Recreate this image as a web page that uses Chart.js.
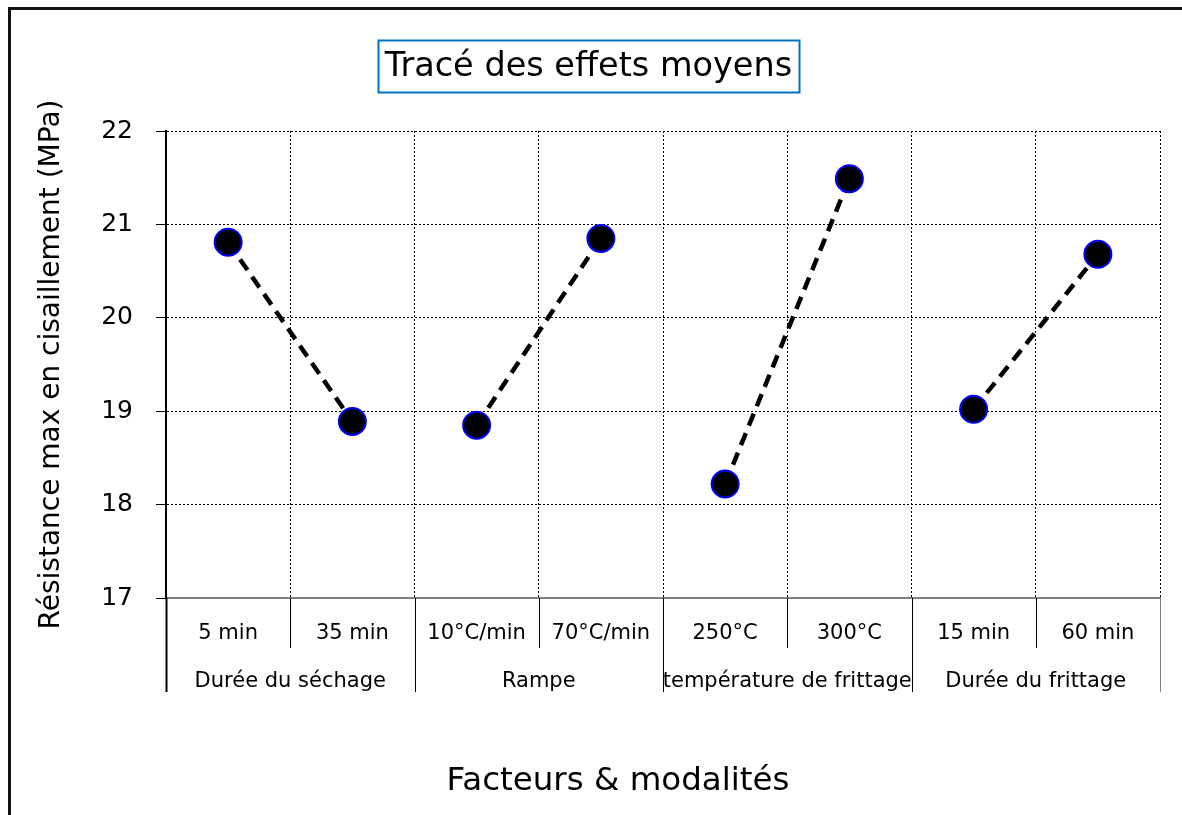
<!DOCTYPE html>
<html><head><meta charset="utf-8">
<script src="https://cdn.jsdelivr.net/npm/chart.js@4"></script>
<style>html,body{margin:0;padding:0;background:#fff}#wrap{width:1182px;height:815px;position:relative}</style>
</head><body><div id="wrap"><canvas id="c" width="1182" height="815"></canvas></div>
<script>
const categories = ['5 min', '35 min', '10°C/min', '70°C/min', '250°C', '300°C', '15 min', '60 min'];
const factors = ['Durée du séchage', 'Rampe', 'température de frittage', 'Durée du frittage'];
const meanValues = [20.81, 18.89, 18.85, 20.85, 18.22, 21.49, 19.02, 20.68];
const yTicks = [17, 18, 19, 20, 21, 22];
const chartTitle = 'Tracé des effets moyens';
const yTitle = 'Résistance max en cisaillement (MPa)';
const xTitle = 'Facteurs & modalités';

const FONT = '"DejaVu Sans", Verdana, sans-serif';

const decor = {
  id: 'decor',
  beforeDraw(chart) {
    const ctx = chart.ctx;
    ctx.save();
    ctx.fillStyle = '#fff';
    ctx.fillRect(0, 0, chart.width, chart.height);
    ctx.strokeStyle = '#111';
    ctx.lineWidth = 3;
    ctx.beginPath();
    ctx.moveTo(9.5, chart.height);
    ctx.lineTo(9.5, 8.5);
    ctx.lineTo(chart.width, 8.5);
    ctx.stroke();
    ctx.restore();
  },
  afterDraw(chart) {
    const ctx = chart.ctx;
    const xs = chart.scales.x;
    const area = chart.chartArea;
    ctx.save();
    // tick separators in the label area
    for (let i = 0; i <= categories.length; i++) {
      const x = Math.round(xs.getPixelForValue(i - 0.5)) + 0.5;
      const groupEdge = i % 2 === 0;
      ctx.beginPath();
      ctx.lineWidth = i === 0 ? 2 : 1;
      ctx.strokeStyle = i === categories.length ? '#808080' : '#000';
      ctx.moveTo(x, area.bottom);
      ctx.lineTo(x, groupEdge ? area.bottom + 94 : area.bottom + 50);
      ctx.stroke();
    }
    // factor labels
    ctx.fillStyle = '#000';
    ctx.font = '21px ' + FONT;
    ctx.textAlign = 'center';
    ctx.textBaseline = 'middle';
    factors.forEach((f, k) => {
      const x0 = xs.getPixelForValue(2 * k - 0.5);
      const x1 = xs.getPixelForValue(2 * k + 1.5);
      ctx.fillText(f, (x0 + x1) / 2, area.bottom + 84);
    });
    // x title
    ctx.font = '32.5px ' + FONT;
    ctx.fillText(xTitle, 618, 782);
    // chart title with box
    ctx.font = '33.5px ' + FONT;
    const tw = ctx.measureText(chartTitle).width;
    const cx = 588.5, cy = 66;
    ctx.fillText(chartTitle, cx, cy + 1);
    ctx.strokeStyle = '#0070C0';
    ctx.lineWidth = 2;
    ctx.strokeRect(Math.round(cx - tw / 2 - 7) + 0.5, 40.5, Math.round(tw + 14), 52);
    ctx.restore();
  }
};

new Chart(document.getElementById('c'), {
  type: 'line',
  data: {
    labels: categories,
    datasets: [{
      data: meanValues,
      borderColor: '#000',
      borderWidth: 4.5,
      borderDash: [13, 8],
      pointRadius: 13.5,
      pointHoverRadius: 13.5,
      pointBackgroundColor: '#000',
      pointBorderColor: '#0000ff',
      pointBorderWidth: 2,
      fill: false,
      tension: 0,
      segment: {
        borderColor: c => (c.p0DataIndex % 2 === 1 ? 'rgba(0,0,0,0)' : '#000')
      }
    }]
  },
  options: {
    responsive: false,
    animation: false,
    devicePixelRatio: 1,
    layout: { padding: { left: 0, top: 131, right: 22, bottom: 0 } },
    plugins: { legend: { display: false }, tooltip: { enabled: false }, title: { display: false } },
    scales: {
      x: {
        type: 'category',
        offset: true,
        afterFit: s => { s.height = 217; },
        grid: { offset: true, color: c => (c.index === categories.length ? '#808080' : '#000'), lineWidth: 1, drawTicks: false },
        border: { display: true, color: '#808080', width: 2, dash: [2, 2] },
        ticks: { color: '#000', font: { family: FONT, size: 21 }, padding: 23, maxRotation: 0, autoSkip: false }
      },
      y: {
        min: yTicks[0],
        max: yTicks[yTicks.length - 1],
        afterFit: s => { s.width = 166; },
        afterBuildTicks: s => { s.ticks = yTicks.map(v => ({ value: v })); },
        grid: { color: '#000', lineWidth: 1, drawTicks: true, tickLength: 10, tickColor: '#000', tickWidth: 1 },
        border: { display: true, color: '#000', width: 2, dash: [2, 2] },
        ticks: { color: '#000', font: { family: FONT, size: 25 }, padding: 23 },
        title: { display: true, text: yTitle, color: '#000', font: { family: FONT, size: 28 }, padding: { top: 35, bottom: 0 } }
      }
    }
  },
  plugins: [decor]
});
</script>
</body></html>
